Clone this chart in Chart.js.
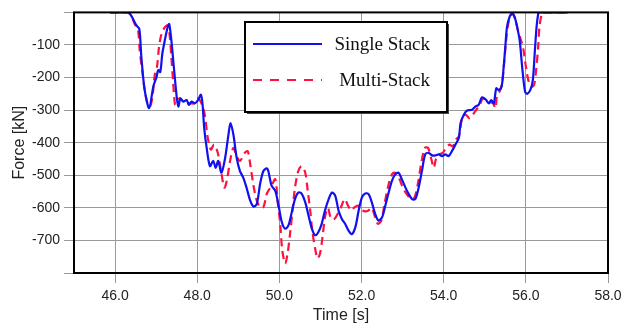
<!DOCTYPE html>
<html>
<head>
<meta charset="utf-8">
<script src="https://cdn.jsdelivr.net/npm/chart.js@4"></script>
<style>
  html, body { margin: 0; padding: 0; background: #fff; }
  #wrap { width: 630px; height: 326px; }
</style>
</head>
<body>
<div id="wrap"><canvas id="forceChart" width="630" height="326"></canvas></div>
<script>
// Single Stack (blue, solid)
const singleTime = [45.88, 46.32, 46.52, 46.59, 46.64, 46.72, 46.83, 46.93, 47.01, 47.05, 47.10, 47.15, 47.21, 47.29, 47.32, 47.37, 47.43, 47.50, 47.54, 47.59, 47.66, 47.74, 47.80, 47.86, 47.94, 48.02, 48.09, 48.13, 48.17, 48.23, 48.31, 48.39, 48.45, 48.51, 48.59, 48.68, 48.76, 48.81, 48.88, 48.96, 49.04, 49.12, 49.20, 49.29, 49.37, 49.45, 49.53, 49.61, 49.69, 49.73, 49.81, 49.90, 49.98, 50.06, 50.14, 50.22, 50.30, 50.38, 50.46, 50.54, 50.63, 50.71, 50.79, 50.87, 50.95, 51.03, 51.11, 51.20, 51.28, 51.36, 51.44, 51.52, 51.60, 51.68, 51.76, 51.85, 51.93, 52.01, 52.09, 52.17, 52.25, 52.33, 52.41, 52.50, 52.58, 52.66, 52.74, 52.82, 52.90, 52.98, 53.07, 53.15, 53.23, 53.31, 53.39, 53.47, 53.55, 53.63, 53.72, 53.80, 53.88, 53.96, 54.04, 54.12, 54.20, 54.29, 54.37, 54.41, 54.49, 54.57, 54.69, 54.77, 54.85, 54.93, 55.02, 55.10, 55.16, 55.22, 55.28, 55.34, 55.41, 55.46, 55.50, 55.54, 55.60, 55.67, 55.73, 55.79, 55.85, 55.91, 55.98, 56.03, 56.11, 56.17, 56.22, 56.26, 56.30, 56.32, 57.02];
const singleForce = [0, 0, -40, -51, -137, -238, -294, -228, -198, -177, -183, -127, -86, -40, -36, -86, -167, -259, -289, -264, -274, -269, -284, -274, -279, -269, -253, -283, -355, -416, -472, -456, -477, -456, -492, -446, -375, -340, -375, -446, -487, -507, -538, -578, -596, -588, -527, -487, -479, -487, -532, -548, -593, -644, -664, -654, -614, -573, -553, -556, -583, -624, -664, -684, -674, -649, -608, -573, -553, -563, -608, -634, -649, -669, -681, -659, -608, -568, -556, -558, -583, -618, -639, -629, -593, -553, -517, -497, -492, -512, -538, -558, -573, -573, -538, -487, -436, -431, -439, -439, -436, -441, -436, -441, -426, -405, -385, -340, -314, -301, -299, -289, -284, -261, -267, -279, -269, -279, -233, -238, -228, -167, -106, -46, -15, -3, -15, -46, -86, -167, -243, -250, -238, -208, -117, -46, -5, 0, 0];

// Multi-Stack (red, dashed)
const multiTime = [45.88, 46.32, 46.48, 46.56, 46.60, 46.67, 46.72, 46.79, 46.85, 46.91, 46.97, 47.02, 47.07, 47.13, 47.21, 47.27, 47.32, 47.37, 47.41, 47.46, 47.50, 47.58, 47.70, 47.82, 47.94, 48.02, 48.12, 48.19, 48.25, 48.33, 48.41, 48.50, 48.58, 48.66, 48.72, 48.80, 48.88, 48.96, 49.04, 49.16, 49.23, 49.29, 49.37, 49.45, 49.53, 49.61, 49.69, 49.73, 49.81, 49.90, 49.96, 50.02, 50.07, 50.14, 50.20, 50.26, 50.32, 50.38, 50.46, 50.54, 50.63, 50.69, 50.75, 50.80, 50.87, 50.93, 50.99, 51.05, 51.11, 51.18, 51.26, 51.34, 51.42, 51.50, 51.59, 51.67, 51.75, 51.83, 51.91, 51.99, 52.09, 52.17, 52.25, 52.33, 52.40, 52.48, 52.56, 52.64, 52.72, 52.80, 52.89, 52.97, 53.05, 53.13, 53.21, 53.29, 53.37, 53.45, 53.54, 53.62, 53.70, 53.76, 53.81, 53.90, 53.98, 54.06, 54.14, 54.22, 54.30, 54.37, 54.46, 54.54, 54.63, 54.71, 54.79, 54.87, 54.95, 55.03, 55.11, 55.20, 55.26, 55.30, 55.36, 55.42, 55.47, 55.52, 55.57, 55.63, 55.68, 55.75, 55.81, 55.87, 55.93, 55.99, 56.06, 56.14, 56.20, 56.25, 56.30, 56.33, 56.38, 56.41, 57.02];
const multiForce = [0, 0, -36, -56, -117, -188, -238, -279, -289, -259, -188, -167, -106, -66, -46, -40, -61, -137, -208, -284, -269, -264, -279, -279, -279, -264, -284, -319, -380, -421, -406, -431, -487, -538, -517, -456, -416, -441, -456, -431, -426, -466, -532, -578, -598, -598, -558, -548, -532, -512, -583, -649, -730, -771, -740, -679, -608, -538, -487, -472, -492, -548, -608, -669, -725, -755, -740, -690, -629, -600, -634, -634, -618, -598, -573, -593, -608, -598, -593, -606, -611, -608, -600, -629, -649, -639, -588, -538, -502, -492, -502, -527, -548, -563, -573, -568, -527, -466, -416, -416, -451, -477, -451, -436, -431, -416, -406, -411, -390, -380, -319, -314, -325, -314, -299, -287, -264, -269, -274, -279, -294, -253, -243, -218, -157, -86, -36, -10, -5, -25, -56, -81, -106, -157, -208, -228, -223, -177, -106, -46, -7, 0, 0];

const xTickValues = [46, 48, 50, 52, 54, 56, 58];
const yTickValues = [-800, -700, -600, -500, -400, -300, -200, -100, 0];
const seriesNames = ["Single Stack", "Multi-Stack"];

const singlePoints = singleTime.map((t, i) => ({ x: t, y: singleForce[i] }));
const multiPoints = multiTime.map((t, i) => ({ x: t, y: multiForce[i] }));

const BLUE = "#1010f0";
const RED = "#ff1040";

// frame around the plot + boxed legend in serif font
const framePlugin = {
    id: "frame",
    afterDatasetsDraw(chart) {
        const { ctx, chartArea: a } = chart;
        ctx.save();
        ctx.strokeStyle = "#000";
        ctx.lineWidth = 2;
        ctx.strokeRect(a.left, a.top, a.right - a.left, a.bottom - a.top);

        // legend box
        const bx = 245, by = 22, bw = 202, bh = 90;
        ctx.fillStyle = "#444";
        ctx.fillRect(bx + 2, by + 2, bw, bh);
        ctx.fillStyle = "#fff";
        ctx.fillRect(bx, by, bw, bh);
        ctx.strokeStyle = "#000";
        ctx.lineWidth = 2;
        ctx.strokeRect(bx, by, bw, bh);

        ctx.lineWidth = 2.2;
        ctx.strokeStyle = BLUE;
        ctx.beginPath();
        ctx.moveTo(253, 44);
        ctx.lineTo(322, 44);
        ctx.stroke();

        ctx.strokeStyle = RED;
        ctx.setLineDash([9, 8]);
        ctx.beginPath();
        ctx.moveTo(253, 80);
        ctx.lineTo(322, 80);
        ctx.stroke();
        ctx.setLineDash([]);

        ctx.fillStyle = "#111";
        ctx.font = '19px "Liberation Serif", "Times New Roman", serif';
        ctx.textAlign = "right";
        ctx.textBaseline = "alphabetic";
        ctx.fillText(seriesNames[0], 430, 50);
        ctx.fillText(seriesNames[1], 430, 86);
        ctx.restore();
    }
};

const ctx = document.getElementById("forceChart").getContext("2d");
new Chart(ctx, {
    type: "line",
    data: {
        datasets: [
            {
                label: seriesNames[0],
                data: singlePoints,
                borderColor: BLUE,
                borderWidth: 2.2,
                pointRadius: 0,
                tension: 0.3,
                fill: false,
            },
            {
                label: seriesNames[1],
                data: multiPoints,
                borderColor: RED,
                borderWidth: 2.2,
                borderDash: [8, 5],
                pointRadius: 0,
                tension: 0.3,
                fill: false,
            },
        ],
    },
    options: {
        responsive: false,
        animation: false,
        layout: { padding: { top: 10, right: 22, bottom: 0, left: 0 } },
        plugins: {
            legend: { display: false },
            tooltip: { enabled: false },
        },
        scales: {
            x: {
                type: "linear",
                min: 45,
                max: 58,
                afterBuildTicks: (axis) => { axis.ticks = xTickValues.map(v => ({ value: v })); },
                afterFit: (axis) => { axis.height = 53; },
                grid: { color: "#9a9a9a", tickColor: "#9a9a9a", tickLength: 10, lineWidth: 1 },
                border: { display: false },
                ticks: {
                    color: "#222",
                    padding: 5,
                    maxRotation: 0,
                    font: { family: '"Liberation Sans", Arial, sans-serif', size: 14 },
                    callback: (v) => Number(v).toFixed(1),
                },
                title: {
                    display: true,
                    text: "Time [s]",
                    color: "#222",
                    padding: { top: 0, bottom: 1 },
                    font: { family: '"Liberation Sans", Arial, sans-serif', size: 16 },
                },
            },
            y: {
                min: -800,
                max: 0,
                afterBuildTicks: (axis) => { axis.ticks = yTickValues.map(v => ({ value: v })); },
                afterFit: (axis) => { axis.width = 74; },
                grid: { color: "#9a9a9a", tickColor: "#9a9a9a", tickLength: 10, lineWidth: 1 },
                border: { display: false },
                ticks: {
                    color: "#222",
                    padding: 4,
                    font: { family: '"Liberation Sans", Arial, sans-serif', size: 14 },
                    callback: (v) => (v === 0 || v === -800 ? "" : String(v)),
                },
                title: {
                    display: true,
                    text: "Force [kN]",
                    color: "#222",
                    padding: { top: 10, bottom: 0 },
                    font: { family: '"Liberation Sans", Arial, sans-serif', size: 16 },
                },
            },
        },
    },
    plugins: [framePlugin],
});
</script>
</body>
</html>
